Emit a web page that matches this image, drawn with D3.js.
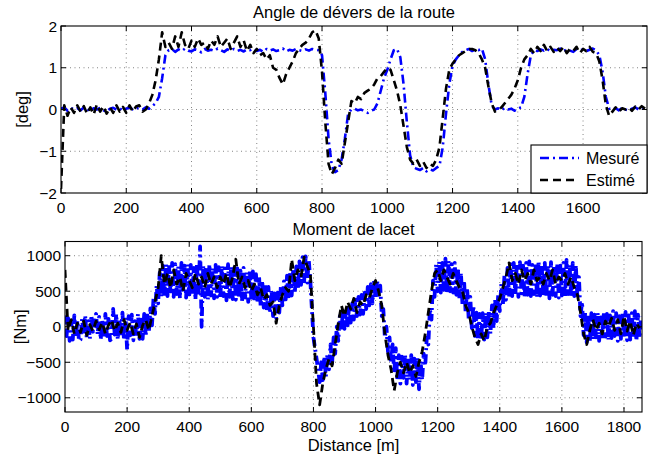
<!DOCTYPE html>
<html><head><meta charset="utf-8">
<script src="https://cdn.jsdelivr.net/npm/d3@7"></script>
<style>
body{margin:0;background:#fff}
svg{display:block}
text{font-family:"Liberation Sans",Arial,Helvetica,sans-serif;fill:#000}
</style>
</head><body>
<svg id="chart" width="665" height="459"></svg>
<script>
// ---------- DATA ----------
// Top plot: road bank angle [deg], sampled every 10 m (0 .. 1790 m)
const topStep = 10;
const topMeasured = [
0.02,0.05,-0.03,0.04,0.0,0.03,-0.02,0.05,0.01,-0.04,
0.03,0.0,0.04,-0.02,-0.05,0.02,0.04,0.0,0.03,-0.03,
0.02,0.05,0.0,0.03,0.04,0.0,0.05,0.02,0.08,
0.15,0.3,0.75,1.3,
1.42,1.45,1.38,1.44,1.40,1.46,1.41,1.39,1.44,1.42,
1.37,1.45,1.41,1.43,1.40,1.46,1.42,1.38,1.44,1.41,
1.45,1.40,1.43,1.39,1.44,1.42,1.46,1.40,1.43,1.38,
1.45,1.41,1.44,1.40,1.42,1.46,1.39,1.43,1.41,1.45,
1.42,1.40,1.44,1.41,1.45,1.43,
1.42,1.3,0.4,-0.7,-1.35,-1.5,-1.45,-1.2,-0.7,-0.1,
0.0,0.02,-0.02,0.0,-0.05,-0.08,-0.03,0.0,
0.15,0.45,0.75,0.95,1.2,1.42,1.45,1.25,0.6,-0.3,
-1.1,-1.38,-1.42,-1.45,-1.4,-1.48,-1.43,-1.46,-1.4,-1.35,
-0.9,-0.1,0.6,1.05,1.2,1.3,1.38,1.42,1.45,1.4,
1.44,1.42,1.46,1.2,0.6,0.1,0.0,0.03,-0.02,0.04,
0.0,0.02,-0.03,0.03,0.05,
0.3,0.85,1.3,1.42,
1.4,1.44,1.41,1.45,1.39,1.43,1.42,1.46,1.40,1.44,
1.41,1.38,1.45,1.42,1.44,1.40,1.43,1.46,1.42,
1.3,0.9,0.3,0.02,
0.0,0.03,-0.02,0.04,0.0,-0.03,0.02,0.05,0.0,0.03,0.01
];
const topEstimated = [
-1.9,0.1,-0.15,0.05,-0.08,0.1,-0.05,0.08,-0.1,0.05,
-0.12,0.12,-0.05,0.08,-0.1,0.05,-0.08,0.1,-0.05,0.06,
-0.08,0.1,-0.05,0.07,0.1,-0.05,0.0,0.15,0.35,0.7,
1.2,1.85,1.5,1.6,1.45,1.75,1.5,1.85,1.55,1.45,
1.65,1.5,1.7,1.55,1.6,1.45,1.65,1.55,1.75,1.5,
1.6,1.7,1.45,1.6,1.75,1.5,1.65,1.4,1.55,1.35,
1.45,1.3,1.35,1.2,1.3,1.0,0.95,0.75,0.6,0.85,
1.0,1.15,1.35,1.45,1.55,1.6,1.7,1.85,1.9,1.7,
0.9,-0.3,-1.3,-1.55,-1.4,-1.2,-1.3,-0.8,-0.3,0.2,
0.15,0.3,0.25,0.4,0.45,0.5,0.6,0.75,0.8,0.9,
1.0,0.95,0.7,0.45,0.1,-0.4,-0.9,-1.2,-1.3,-1.2,
-1.35,-1.25,-1.4,-1.3,-1.35,-1.2,-0.9,-0.2,0.5,0.95,
1.1,1.2,1.3,1.35,1.4,1.45,1.45,1.42,1.35,1.2,
1.0,0.55,0.15,-0.05,0.0,0.05,0.15,0.25,0.35,0.5,
0.7,1.0,1.2,1.3,1.45,1.35,1.5,1.4,1.55,1.4,
1.5,1.38,1.48,1.4,1.5,1.35,1.45,1.4,1.5,1.35,
1.45,1.4,1.5,1.38,1.35,1.15,0.7,0.1,-0.15,-0.05,
0.05,-0.05,0.03,0.0,0.05,-0.03,0.07,0.0,0.08,0.02
];

// Bottom plot: yaw moment [Nm]
const botMeasuredStep = 5;   // 0 .. 1855 m
const botMeasured = [
160,-130,120,-200,70,-180,160,-150,90,-200,
-180,110,-110,160,-160,80,-170,160,-70,130,
180,-110,140,-180,90,-160,180,-130,110,-190,
-170,250,-110,180,-180,110,-140,200,-190,130,
-320,150,-120,170,-190,80,-150,180,-170,100,
-170,180,-130,200,-80,260,20,400,180,580,
330,760,420,860,420,880,430,870,450,900,
420,880,460,850,400,900,480,860,410,880,
410,870,450,830,380,890,430,1130,0,860,
420,850,380,880,440,830,400,870,420,840,
400,860,430,820,370,880,420,850,390,830,
380,820,400,790,360,830,410,770,350,800,
370,780,360,740,330,700,290,650,270,610,
230,560,190,520,150,470,120,480,200,560,
300,640,340,720,400,780,440,820,470,850,
520,920,590,980,640,990,620,940,650,250,
-150,-300,-450,-600,-780,-500,-750,-420,-700,-380,
-600,-250,-520,-150,-380,0,-200,150,-50,220,
-30,260,20,300,60,330,100,380,150,420,
170,450,180,480,250,560,300,600,330,650,
400,660,420,580,150,250,-150,0,-350,-150,
-500,-250,-650,-300,-750,-400,-800,-420,-720,-380,
-800,-420,-750,-400,-820,-450,-780,-430,-880,-480,
-750,-380,-550,-150,-250,250,100,650,420,880,
500,920,480,900,520,960,470,930,500,880,
480,900,450,830,400,760,300,650,200,550,
100,420,-20,300,-130,200,-180,180,-190,190,
-180,200,-150,230,-100,300,-20,380,80,450,
220,600,300,720,380,830,420,880,430,900,
440,880,420,910,470,860,400,900,450,920,
430,870,460,890,410,930,440,860,470,900,
420,880,400,910,450,870,430,890,410,860,
440,900,420,940,460,880,410,900,430,870,
400,700,150,350,-120,200,-220,180,-200,190,
-180,170,-150,200,-200,130,-170,210,-140,180,
-190,160,-160,220,-130,190,-200,150,-170,200,
-150,210,-190,160,-180,190,-140,220,-200,170,
-160,150
];
const botEstimatedStep = 10; // 0 .. 1850 m
const botEstimated = [
800,-50,100,-100,50,-80,80,-120,30,-60,
80,-40,60,-100,20,100,-60,50,-80,100,
-50,60,-100,40,-150,20,100,-50,150,350,
550,1000,600,750,550,800,600,700,500,750,
650,550,750,600,700,550,750,600,700,550,
700,600,750,550,700,950,600,700,550,650,
500,600,450,550,380,450,300,350,50,300,
450,550,500,950,650,800,700,980,850,750,
0,-800,-1100,-800,-600,-450,-550,-250,50,300,
150,350,250,400,200,350,300,450,400,550,
650,500,300,-100,-400,-600,-900,-650,-500,-650,
-500,-650,-550,-700,-500,-350,-100,200,500,750,
800,650,800,700,600,750,650,550,500,300,
200,0,-150,-250,-100,-200,0,50,200,300,
400,550,700,900,650,750,600,800,650,750,
600,800,650,700,600,750,650,800,600,700,
650,750,600,700,550,450,200,-100,-250,-50,
100,-50,50,-100,80,0,120,-50,100,-100,
150,-60,80,-120,50,-20
];

const topXTicks = [0,200,400,600,800,1000,1200,1400,1600];
const topYTicks = [-2,-1,0,1,2];
const botXTicks = [0,200,400,600,800,1000,1200,1400,1600,1800];
const botYTicks = [-1000,-500,0,500,1000];
const topTitle = "Angle de dévers de la route";
const botTitle = "Moment de lacet";
const topYLabel = "[deg]";
const botYLabel = "[Nm]";
const botXLabel = "Distance [m]";
const legendLabels = ["Mesuré","Estimé"];

// ---------- DRAW ----------
const svg = d3.select("#chart");
const FS = 15.5;   // tick labels
const LFS = 16.5;  // titles / axis labels
const BLUE = "#0000ff";
const blueDash = "9,4,2,4";
const blackDash = "8,5";

function panel(cfg){
  const {left, top, right, bottom, xMax, yDom, xTicks, yTicks, id} = cfg;
  const x = d3.scaleLinear().domain([0, xMax]).range([left, right]);
  const y = d3.scaleLinear().domain(yDom).range([bottom, top]);
  const g = svg.append("g");
  g.append("rect").attr("x",left).attr("y",top).attr("width",right-left).attr("height",bottom-top).attr("fill","#fff");
  // grid
  g.selectAll(".gx").data(xTicks.filter(t=>t>0)).enter().append("line")
    .attr("x1",d=>x(d)).attr("x2",d=>x(d)).attr("y1",top).attr("y2",bottom)
    .attr("stroke","#666").attr("stroke-width",0.8).attr("stroke-dasharray","1,3.5");
  g.selectAll(".gy").data(yTicks.filter(t=>t>yDom[0] && t<yDom[1])).enter().append("line")
    .attr("y1",d=>y(d)).attr("y2",d=>y(d)).attr("x1",left).attr("x2",right)
    .attr("stroke","#666").attr("stroke-width",0.8).attr("stroke-dasharray","1,3.5");
  // clip
  svg.append("clipPath").attr("id",id).append("rect")
    .attr("x",left).attr("y",top).attr("width",right-left).attr("height",bottom-top);
  const plot = g.append("g").attr("clip-path",`url(#${id})`);
  cfg.series.forEach(s=>{
    const line = d3.line().x((d,i)=>x(i*s.step)).y(d=>y(d));
    plot.append("path").attr("d",line(s.values)).attr("fill","none")
      .attr("stroke",s.color).attr("stroke-width",s.width)
      .attr("stroke-dasharray",s.dash).attr("stroke-linejoin","round");
  });
  // axes with inward ticks (box)
  const tl = 5;
  const ax = g.append("g");
  xTicks.forEach(t=>{
    ax.append("line").attr("x1",x(t)).attr("x2",x(t)).attr("y1",bottom).attr("y2",bottom-tl).attr("stroke","#000");
    ax.append("line").attr("x1",x(t)).attr("x2",x(t)).attr("y1",top).attr("y2",top+tl).attr("stroke","#000");
    ax.append("text").attr("x",x(t)).attr("y",bottom+cfg.xLabOff).attr("text-anchor","middle")
      .attr("font-size",FS).text(d3.format("d")(t));
  });
  yTicks.forEach(t=>{
    ax.append("line").attr("x1",left).attr("x2",left+tl).attr("y1",y(t)).attr("y2",y(t)).attr("stroke","#000");
    ax.append("line").attr("x1",right).attr("x2",right-tl).attr("y1",y(t)).attr("y2",y(t)).attr("stroke","#000");
    ax.append("text").attr("x",left-4).attr("y",y(t)).attr("dy","0.36em").attr("text-anchor","end")
      .attr("font-size",FS).text(d3.format("d")(t));
  });
  ax.append("rect").attr("x",left).attr("y",top).attr("width",right-left).attr("height",bottom-top)
    .attr("fill","none").attr("stroke","#000").attr("stroke-width",1.1);
  // title & labels
  g.append("text").attr("x",(left+right)/2).attr("y",cfg.titleY).attr("text-anchor","middle")
    .attr("font-size",LFS).text(cfg.title);
  g.append("text").attr("transform",`translate(${cfg.yLabX},${(top+bottom)/2}) rotate(-90)`)
    .attr("text-anchor","middle").attr("font-size",LFS).text(cfg.ylabel);
  if(cfg.xlabel){
    g.append("text").attr("x",(left+right)/2).attr("y",cfg.xLabelY).attr("text-anchor","middle")
      .attr("font-size",LFS).text(cfg.xlabel);
  }
  return {x,y,g};
}

const P1 = panel({
  id:"clipTop", left:61, top:26, right:647, bottom:193, xMax:1796, yDom:[-2,2],
  xTicks:topXTicks, yTicks:topYTicks, title:topTitle, titleY:17.5, ylabel:topYLabel, yLabX:27.5, xLabOff:20,
  series:[
    {values:topMeasured, step:topStep, color:BLUE, width:2.6, dash:blueDash},
    {values:topEstimated, step:topStep, color:"#000", width:2.6, dash:blackDash}
  ]
});

const P2 = panel({
  id:"clipBot", left:65, top:241.5, right:642, bottom:412, xMax:1858, yDom:[-1200,1200],
  xTicks:botXTicks, yTicks:botYTicks, title:botTitle, titleY:235, ylabel:botYLabel, yLabX:25.5, xLabOff:20,
  xlabel:botXLabel, xLabelY:451,
  series:[
    {values:botMeasured, step:botMeasuredStep, color:BLUE, width:3.8, dash:blueDash},
    {values:botEstimated, step:botEstimatedStep, color:"#000", width:2.8, dash:blackDash}
  ]
});

// legend (top panel, lower right)
const lg = svg.append("g");
const lx0 = 531, ly0 = 145, lx1 = 647, ly1 = 193;
lg.append("rect").attr("x",lx0).attr("y",ly0).attr("width",lx1-lx0).attr("height",ly1-ly0)
  .attr("fill","#fff").attr("stroke","#000").attr("stroke-width",1.1);
const legItems = [
  {label:legendLabels[0], color:BLUE, dash:blueDash},
  {label:legendLabels[1], color:"#000", dash:blackDash}
];
legItems.forEach((it,i)=>{
  const yy = 158 + i*22;
  lg.append("line").attr("x1",540).attr("x2",579).attr("y1",yy).attr("y2",yy)
    .attr("stroke",it.color).attr("stroke-width",2.6).attr("stroke-dasharray",it.dash);
  lg.append("text").attr("x",586).attr("y",yy).attr("dy","0.36em").attr("font-size",16).text(it.label);
});
</script>
</body></html>
